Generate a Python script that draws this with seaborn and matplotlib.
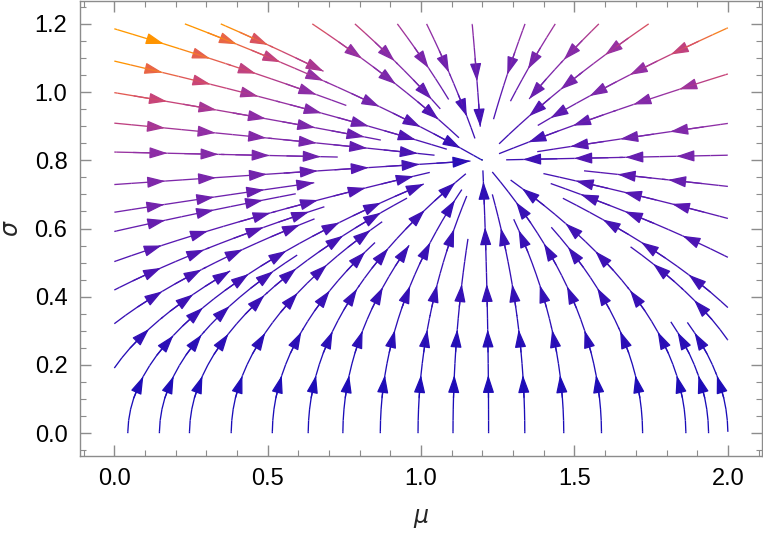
import numpy as np
import matplotlib
matplotlib.use("Agg")
import matplotlib.pyplot as plt
import seaborn as sns
from matplotlib.colors import LinearSegmentedColormap
from matplotlib.patches import FancyArrowPatch, ArrowStyle
from matplotlib.ticker import MultipleLocator, FormatStrFormatter

# fixed point of the flow (target mean and std)
mu_target = 1.2
sigma_target = 0.8

# plot window
mu_range = [0.0, 2.0]
sigma_range = [0.0, 1.2]
x_lim = [-0.112, 2.112]
y_lim = [-0.066, 1.268]

# seed points of the stream lines
seed_bottom_mu = [0.044, 0.147, 0.245, 0.381, 0.515, 0.632, 0.745, 0.867, 0.99,
                  1.104, 1.22, 1.338, 1.465, 1.588, 1.722, 1.863, 1.937, 2.0]
seed_left_sigma = [1.183, 1.091, 0.997, 0.909, 0.823, 0.729, 0.663, 0.593,
                   0.505, 0.427, 0.321, 0.191]
seed_left_mu = [0.01, 0.0, 0.01, 0.0, 0.062, 0.0, 0.109, 0.008, 0.006, 0.016, 0.0, 0.0]
seed_top_mu = [0.256, 0.455, 0.693, 0.85, 0.93, 1.026, 1.17, 1.331, 1.431, 1.525, 1.675, 1.95]
seed_top_sigma = [1.191, 1.157, 1.171, 1.146, 1.191, 1.185, 1.165, 1.181, 1.191, 1.151,
                  1.158, 1.168]
seed_right_mu = [1.992, 1.975, 1.999, 1.915, 1.973, 1.988, 1.977, 1.999]
seed_right_sigma = [1.051, 0.905, 0.815, 0.732, 0.636, 0.521, 0.387, 0.274]

# colour scale: (speed * sigma) -> colour
color_stops = [0.0, 0.06, 0.25, 0.5, 1.0, 1.5, 1.9, 2.15, 2.5, 3.4]
stop_colors = ["#1a0cb8", "#3510b5", "#5416b2", "#7424ac", "#9430a4", "#c84478",
               "#e45c50", "#f47c2c", "#ff9400", "#ff9a00"]

sns.set_style("ticks")
plt.rcParams["font.family"] = ["Liberation Sans", "DejaVu Sans"]
plt.rcParams["mathtext.fontset"] = "dejavusans"

# natural-gradient flow of KL(q || target) for a Gaussian q(mu, sigma)
mu = np.linspace(mu_range[0], mu_range[1], 201)
sigma = np.linspace(sigma_range[0], sigma_range[1], 201)
M, S = np.meshgrid(mu, sigma)
U = -S**2 * (M - mu_target) / sigma_target**2
V = S * (sigma_target**2 - S**2) / (2 * sigma_target**2)
strength = np.sqrt(U**2 + V**2) * S

cmap = LinearSegmentedColormap.from_list(
    "stream", list(zip(np.array(color_stops) / color_stops[-1], stop_colors))
)
norm = plt.Normalize(color_stops[0], color_stops[-1])

seeds = (
    list(zip(seed_top_mu, seed_top_sigma))
    + list(zip(seed_right_mu, seed_right_sigma))
    + list(zip(seed_left_mu, seed_left_sigma))
    + [(m, 0.004) for m in seed_bottom_mu]
)
seeds = np.clip(np.array(seeds), [mu_range[0], 0.004], [mu_range[1], sigma_range[1]])

f = plt.figure(figsize=(7.63, 5.37), dpi=100)
ax = f.add_axes([0.1048, 0.1514, 0.8942, 0.8473])
ax.set_xlim(x_lim)
ax.set_ylim(y_lim)

sp = ax.streamplot(
    M, S, U, V, start_points=seeds, integration_direction="both",
    color=strength, cmap=cmap, norm=norm, density=1.2, linewidth=0.95,
    arrowstyle="-", minlength=0.02,
)

# arrow heads every ~50 px along each stream line
segs = sp.lines.get_segments()
vals = sp.lines.get_array()
lines = []
for seg, v in zip(segs, vals):
    if lines and np.allclose(seg[0], lines[-1][0][-1]):
        lines[-1][0].append(seg[1])
        lines[-1][1].append(v)
    else:
        lines.append([[seg[0], seg[1]], [v]])

head = ArrowStyle("-|>", head_length=1.1, head_width=0.35)
for pts, vs in lines:
    pts = np.array(pts)
    disp = ax.transData.transform(pts)
    d = np.r_[0, np.cumsum(np.hypot(*np.diff(disp, axis=0).T))]
    total = d[-1]
    s = 48.0
    while s <= total - 4:
        i = np.searchsorted(d, s)
        tip = pts[i]
        j = max(np.searchsorted(d, s - 12) - 1, 0)
        tail = pts[j]
        c = cmap(norm(vs[min(i, len(vs) - 1)]))
        ax.add_patch(FancyArrowPatch(tail, tip, arrowstyle=head, mutation_scale=10,
                                     shrinkA=0, shrinkB=0, lw=0.9, color=c))
        s += 50.0

ax.xaxis.set_major_locator(MultipleLocator(0.5))
ax.xaxis.set_minor_locator(MultipleLocator(0.1))
ax.yaxis.set_major_locator(MultipleLocator(0.2))
ax.yaxis.set_minor_locator(MultipleLocator(0.05))
ax.xaxis.set_major_formatter(FormatStrFormatter("%.1f"))
ax.yaxis.set_major_formatter(FormatStrFormatter("%.1f"))
ax.tick_params(which="both", direction="in", top=True, right=True, color="#8c8c8c",
               labelsize=17, labelcolor="black", pad=9)
ax.tick_params(which="major", length=8, width=1)
ax.tick_params(which="minor", length=4.5, width=0.8)
for sp_ in ax.spines.values():
    sp_.set_color("#8c8c8c")
    sp_.set_linewidth(1)

ax.set_xlabel(r"$\mu$", fontsize=17, labelpad=12)
ax.set_ylabel(r"$\sigma$", fontsize=17, labelpad=8)

plt.savefig("out.png", dpi=100)
